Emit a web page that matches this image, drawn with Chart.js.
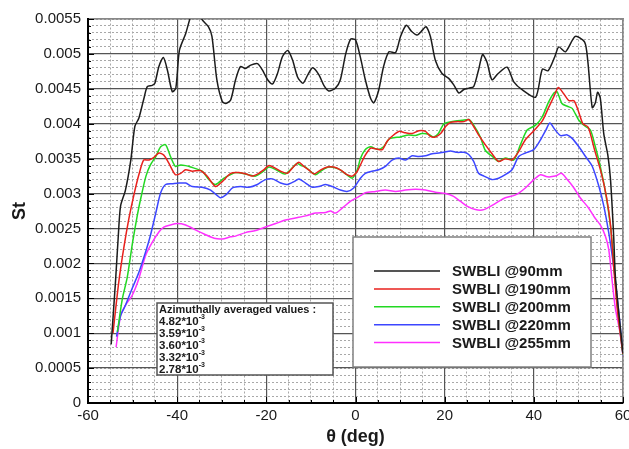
<!DOCTYPE html>
<html>
<head>
<meta charset="utf-8">
<title>SWBLI St vs theta</title>
<script src="https://cdn.jsdelivr.net/npm/chart.js@4.4.1/dist/chart.umd.min.js"></script>
<style>
  html, body { margin: 0; padding: 0; background: #fff; overflow: hidden; }
  #wrap { width: 640px; height: 449px; }
</style>
</head>
<body>
<div id="wrap"><canvas id="chart"></canvas></div>
<script>
// Stanton number values are stored in units of 1e-3
const ST_UNIT = 0.001;

const seriesNames = ['SWBLI @90mm', 'SWBLI @190mm', 'SWBLI @200mm', 'SWBLI @220mm', 'SWBLI @255mm'];
const seriesColors = ['#1c1c1c', '#e8201c', '#22d822', '#3c46ff', '#ff30ff'];
const averagedValues = ['4.82', '3.59', '3.60', '3.32', '2.78'];

const theta90 = [-54.8, -53.8, -53.2, -52.7, -51.6, -50.4, -49.5, -48.6, -47.5, -46.7, -45.6, -45.0, -44.1, -43.1, -42.2, -41.1, -40.3, -39.5, -38.1, -37.0, -35.8, -34.4, -33.0, -32.2, -31.1, -29.9, -29.1, -28.0, -26.9, -25.8, -24.7, -23.5, -22.0, -20.9, -19.7, -18.6, -17.5, -16.4, -15.2, -14.1, -13.0, -11.8, -10.7, -9.6, -8.2, -7.1, -6.0, -4.5, -3.4, -2.2, -1.1, 0.0, 1.1, 2.2, 3.4, 4.1, 5.2, 6.3, 7.5, 9.0, 10.1, 11.4, 12.6, 13.8, 15.0, 15.8, 16.8, 17.9, 19.4, 20.9, 22.1, 23.2, 24.3, 25.4, 26.5, 27.6, 28.5, 29.5, 30.6, 32.0, 34.0, 35.5, 37.5, 40.4, 41.9, 43.2, 44.7, 45.6, 47.1, 49.3, 51.4, 52.1, 53.1, 53.8, 54.3, 54.9, 55.7, 56.6, 57.2, 57.9, 58.3, 59.2, 60.0];
const st90 = [0.84, 1.77, 2.40, 2.82, 3.05, 3.48, 3.96, 4.08, 4.35, 4.53, 4.55, 4.58, 4.82, 4.95, 4.77, 4.46, 4.51, 5.05, 5.29, 5.53, 5.70, 5.49, 5.39, 5.25, 4.63, 4.32, 4.29, 4.34, 4.63, 4.82, 4.79, 4.84, 4.86, 4.77, 4.63, 4.57, 4.72, 4.96, 5.05, 4.91, 4.67, 4.58, 4.70, 4.80, 4.70, 4.55, 4.47, 4.51, 4.63, 5.00, 5.21, 5.20, 4.95, 4.63, 4.36, 4.30, 4.48, 4.82, 5.03, 5.02, 5.25, 5.41, 5.32, 5.27, 5.34, 5.39, 5.25, 4.91, 4.72, 4.65, 4.55, 4.44, 4.49, 4.51, 4.53, 4.77, 4.99, 4.88, 4.63, 4.72, 4.81, 4.60, 4.48, 4.38, 4.78, 4.76, 4.96, 5.10, 5.03, 5.25, 5.17, 4.90, 4.23, 4.30, 4.45, 4.37, 3.85, 3.55, 3.20, 2.40, 1.80, 1.20, 0.71];

const theta190 = [-54.4, -53.1, -52.0, -50.8, -49.6, -48.5, -47.5, -46.3, -45.2, -44.1, -43.0, -41.9, -40.4, -39.2, -38.1, -36.6, -34.8, -33.3, -31.4, -29.9, -28.0, -26.2, -24.5, -23.2, -21.7, -20.6, -19.4, -17.9, -16.8, -15.3, -13.8, -12.7, -11.6, -10.5, -9.3, -7.8, -6.3, -4.9, -3.4, -1.9, -0.7, 0.4, 1.1, 2.2, 3.4, 4.5, 6.0, 7.1, 8.2, 9.7, 11.2, 12.7, 14.2, 15.7, 16.8, 17.9, 19.1, 20.2, 21.3, 22.8, 24.3, 25.4, 26.5, 27.6, 29.1, 30.5, 32.1, 33.6, 35.1, 36.6, 38.1, 40.0, 41.9, 43.3, 44.5, 45.5, 46.7, 47.9, 49.0, 50.0, 51.0, 52.2, 53.6, 55.1, 56.3, 57.2, 57.9, 58.8, 60.0];
const st190 = [1.00, 1.73, 2.21, 2.65, 3.01, 3.29, 3.48, 3.48, 3.52, 3.58, 3.55, 3.44, 3.27, 3.29, 3.34, 3.32, 3.33, 3.25, 3.10, 3.17, 3.29, 3.30, 3.28, 3.25, 3.29, 3.34, 3.40, 3.36, 3.32, 3.29, 3.39, 3.45, 3.39, 3.34, 3.28, 3.34, 3.38, 3.38, 3.34, 3.27, 3.25, 3.32, 3.41, 3.55, 3.65, 3.64, 3.63, 3.75, 3.82, 3.89, 3.87, 3.86, 3.90, 3.89, 3.82, 3.81, 3.86, 3.96, 4.02, 4.03, 4.03, 4.06, 3.96, 3.84, 3.70, 3.58, 3.46, 3.50, 3.48, 3.60, 3.77, 3.90, 4.04, 4.23, 4.39, 4.52, 4.43, 4.33, 4.33, 4.18, 4.00, 3.95, 3.63, 3.30, 2.95, 2.55, 1.96, 1.30, 0.70];

const theta200 = [-53.4, -52.3, -51.2, -50.0, -48.9, -48.1, -47.0, -46.0, -44.8, -43.7, -42.6, -41.5, -40.4, -39.2, -38.1, -37.0, -34.4, -32.9, -31.4, -29.5, -28.0, -26.9, -24.0, -22.4, -20.6, -19.4, -17.5, -15.8, -13.1, -12.2, -11.2, -9.0, -7.6, -6.0, -3.7, -2.0, -0.7, 0.4, 1.1, 2.2, 3.4, 4.9, 6.3, 7.5, 8.6, 10.1, 11.9, 13.4, 14.9, 16.4, 17.5, 18.6, 19.8, 20.9, 22.4, 23.9, 25.4, 26.5, 28.0, 29.1, 30.7, 32.1, 33.6, 35.5, 37.0, 38.5, 40.4, 41.9, 43.3, 44.5, 45.2, 46.3, 47.5, 48.6, 50.1, 51.6, 52.7, 53.8, 54.9, 56.1, 57.2, 57.9, 58.8, 60.0];
const st200 = [1.02, 1.49, 1.80, 2.30, 2.70, 2.95, 3.25, 3.41, 3.53, 3.67, 3.70, 3.53, 3.39, 3.41, 3.40, 3.38, 3.32, 3.20, 3.13, 3.22, 3.27, 3.30, 3.27, 3.25, 3.32, 3.38, 3.33, 3.28, 3.43, 3.40, 3.38, 3.27, 3.33, 3.38, 3.35, 3.27, 3.22, 3.34, 3.50, 3.63, 3.67, 3.63, 3.67, 3.78, 3.80, 3.81, 3.84, 3.83, 3.86, 3.85, 3.81, 3.86, 4.00, 4.02, 4.04, 4.05, 4.06, 3.98, 3.81, 3.62, 3.53, 3.46, 3.51, 3.48, 3.70, 3.91, 3.98, 4.10, 4.31, 4.44, 4.46, 4.29, 4.25, 4.22, 4.05, 3.96, 3.91, 3.67, 3.39, 3.01, 2.53, 2.05, 1.35, 0.69];

const theta220 = [-53.6, -52.7, -51.6, -50.1, -48.6, -47.1, -46.0, -44.8, -43.7, -42.6, -41.1, -39.6, -38.1, -36.6, -34.4, -32.5, -30.3, -29.1, -27.6, -25.8, -23.9, -22.0, -20.2, -18.6, -16.8, -15.3, -13.8, -12.7, -11.2, -9.7, -8.2, -6.7, -5.2, -3.4, -1.9, -0.4, 1.1, 2.2, 3.7, 5.2, 6.7, 8.2, 9.7, 11.2, 12.7, 14.2, 15.7, 17.2, 18.7, 19.8, 21.3, 22.8, 24.3, 25.4, 26.5, 27.6, 28.8, 30.6, 32.1, 33.6, 35.1, 36.6, 38.1, 40.0, 41.5, 42.7, 43.6, 44.8, 46.0, 47.5, 48.6, 50.1, 51.6, 53.1, 54.6, 55.7, 56.8, 57.6, 58.3, 59.3, 60.0];
const st220 = [0.95, 1.25, 1.40, 1.64, 1.87, 2.16, 2.40, 2.72, 3.01, 3.13, 3.14, 3.15, 3.15, 3.10, 3.09, 3.05, 2.94, 2.98, 3.08, 3.10, 3.09, 3.13, 3.20, 3.21, 3.15, 3.13, 3.17, 3.21, 3.15, 3.09, 3.10, 3.13, 3.10, 3.05, 3.03, 3.08, 3.22, 3.29, 3.32, 3.34, 3.39, 3.48, 3.51, 3.48, 3.54, 3.53, 3.54, 3.57, 3.58, 3.59, 3.61, 3.59, 3.59, 3.56, 3.46, 3.29, 3.25, 3.20, 3.22, 3.27, 3.34, 3.53, 3.58, 3.63, 3.77, 3.91, 4.01, 3.91, 3.83, 3.84, 3.79, 3.67, 3.53, 3.39, 3.10, 2.82, 2.44, 2.10, 1.75, 1.15, 0.68];

const theta255 = [-53.7, -52.7, -51.6, -50.1, -48.6, -47.1, -45.6, -44.1, -43.0, -41.5, -40.0, -38.1, -35.9, -33.6, -31.7, -29.9, -28.0, -26.9, -24.7, -22.4, -20.2, -17.9, -15.7, -13.5, -11.2, -9.0, -6.7, -5.6, -4.5, -3.0, -1.1, 0.0, 1.1, 2.2, 4.5, 6.7, 9.0, 11.2, 13.5, 15.7, 17.9, 20.2, 22.0, 23.5, 25.0, 26.9, 28.8, 31.4, 33.6, 35.9, 38.1, 40.0, 41.5, 43.0, 44.8, 46.2, 47.5, 49.0, 50.4, 52.2, 53.6, 54.9, 56.0, 56.8, 57.6, 58.3, 59.3, 60.0];
const st255 = [0.80, 1.25, 1.40, 1.54, 1.78, 2.11, 2.30, 2.45, 2.52, 2.55, 2.57, 2.55, 2.48, 2.41, 2.36, 2.35, 2.38, 2.39, 2.44, 2.47, 2.52, 2.57, 2.62, 2.65, 2.68, 2.72, 2.73, 2.75, 2.72, 2.79, 2.89, 2.93, 2.97, 3.01, 3.03, 3.05, 3.03, 3.05, 3.06, 3.05, 3.02, 3.00, 2.96, 2.89, 2.82, 2.77, 2.77, 2.86, 2.94, 2.98, 3.08, 3.20, 3.27, 3.24, 3.25, 3.29, 3.20, 3.08, 2.94, 2.80, 2.66, 2.55, 2.40, 2.20, 1.73, 1.35, 1.02, 0.68];

const thetaSets = [theta90, theta190, theta200, theta220, theta255];
const stSets = [st90, st190, st200, st220, st255];

const FONT = '"Liberation Sans", Arial, Helvetica, sans-serif';

function toPoints(thetas, values) {
  return thetas.map((t, i) => ({ x: t, y: values[i] * ST_UNIT }));
}

// Legend box and averaged-values box drawn inside the plot area
const overlayPlugin = {
  id: 'overlay',
  afterDatasetsDraw(chart) {
    const ctx = chart.ctx;
    const xs = chart.scales.x;
    const ys = chart.scales.y;

    // inward tick marks along the bottom and left axes
    ctx.save();
    ctx.strokeStyle = '#000';
    ctx.lineWidth = 1;
    chart.scales.xMinor.ticks.forEach(t => {
      const px = Math.round(xs.getPixelForValue(t.value)) + 0.5;
      const len = Math.abs(t.value % 20) < 1e-9 ? 6 : 3;
      ctx.beginPath();
      ctx.moveTo(px, ys.bottom);
      ctx.lineTo(px, ys.bottom - len);
      ctx.stroke();
    });
    chart.scales.yMinor.ticks.forEach(t => {
      const py = Math.round(ys.getPixelForValue(t.value)) + 0.5;
      const k = Math.round(t.value / 0.0001);
      const len = k % 5 === 0 ? 6 : 3;
      ctx.beginPath();
      ctx.moveTo(xs.left, py);
      ctx.lineTo(xs.left + len, py);
      ctx.stroke();
    });
    ctx.restore();
  },
  afterDraw(chart) {
    const ctx = chart.ctx;
    ctx.save();

    // legend
    ctx.fillStyle = '#fff';
    ctx.fillRect(353, 237, 238, 130);
    ctx.strokeStyle = '#808080';
    ctx.lineWidth = 1.5;
    ctx.strokeRect(353, 237, 238, 130);
    ctx.font = 'bold 15px ' + FONT;
    ctx.textBaseline = 'middle';
    ctx.textAlign = 'left';
    chart.data.datasets.forEach((ds, i) => {
      const y = 271 + i * 17.9;
      ctx.strokeStyle = ds.borderColor;
      ctx.lineWidth = 1.5;
      ctx.beginPath();
      ctx.moveTo(374, y);
      ctx.lineTo(440, y);
      ctx.stroke();
      ctx.fillStyle = '#1a1a1a';
      ctx.fillText(ds.label, 452, y + 1);
    });

    // azimuthally averaged values
    ctx.fillStyle = '#fff';
    ctx.fillRect(157, 303, 176, 72);
    ctx.strokeStyle = '#555';
    ctx.lineWidth = 1.5;
    ctx.strokeRect(157, 303, 176, 72);
    ctx.fillStyle = '#1a1a1a';
    ctx.font = 'bold 11px ' + FONT;
    ctx.fillText('Azimuthally averaged values :', 159, 310);
    averagedValues.forEach((v, i) => {
      const y = 322 + i * 11.9;
      ctx.font = 'bold 11.5px ' + FONT;
      const base = v + '*10';
      ctx.fillText(base, 159, y);
      const w = ctx.measureText(base).width;
      ctx.font = 'bold 7px ' + FONT;
      ctx.fillText('-3', 159 + w, y - 5);
    });

    ctx.restore();
  }
};

const datasets = seriesNames.map((name, i) => ({
  label: name,
  data: toPoints(thetaSets[i], stSets[i]),
  borderColor: seriesColors[i],
  backgroundColor: seriesColors[i],
  borderWidth: 1.5,
  pointRadius: 0,
  tension: 0.25,
  xAxisID: 'x',
  yAxisID: 'y'
}));

new Chart(document.getElementById('chart'), {
  type: 'line',
  data: { datasets },
  plugins: [overlayPlugin],
  options: {
    responsive: true,
    maintainAspectRatio: false,
    animation: false,
    events: [],
    layout: { padding: { top: 19, right: 17, left: 0, bottom: 0 } },
    plugins: {
      legend: { display: false },
      tooltip: { enabled: false }
    },
    scales: {
      xMinor: {
        type: 'linear',
        position: 'top',
        min: -60,
        max: 60,
        ticks: { stepSize: 5, display: false },
        grid: { color: '#a8a8a8', lineWidth: 1, drawTicks: false },
        border: { display: true, color: '#888', width: 1.5, dash: [2, 2] },
        afterFit: s => { s.height = 0; }
      },
      yMinor: {
        type: 'linear',
        position: 'right',
        min: 0,
        max: 0.0055,
        ticks: { stepSize: 0.0001, display: false },
        grid: { color: '#a8a8a8', lineWidth: 1, drawTicks: false },
        border: { display: true, color: '#888', width: 1.5, dash: [2, 2] },
        afterFit: s => { s.width = 0; }
      },
      x: {
        type: 'linear',
        position: 'bottom',
        min: -60,
        max: 60,
        ticks: {
          stepSize: 20,
          padding: 4,
          color: '#1a1a1a',
          font: { family: FONT, size: 15 }
        },
        grid: { color: '#555', lineWidth: 1.2, drawTicks: false },
        border: { display: true, color: '#000', width: 2 },
        title: {
          display: true,
          text: 'θ (deg)',
          color: '#1a1a1a',
          font: { family: FONT, size: 18, weight: 'bold' },
          padding: { top: 0, bottom: 1 }
        },
        afterFit: s => { s.height = 46; }
      },
      y: {
        type: 'linear',
        position: 'left',
        min: 0,
        max: 0.0055,
        ticks: {
          stepSize: 0.0005,
          padding: 7,
          color: '#1a1a1a',
          font: { family: FONT, size: 15 },
          callback: v => String(parseFloat(v.toFixed(4)))
        },
        grid: { color: '#555', lineWidth: 1.2, drawTicks: false },
        border: { display: true, color: '#000', width: 2 },
        title: {
          display: true,
          text: 'St',
          color: '#1a1a1a',
          font: { family: FONT, size: 18, weight: 'bold' },
          padding: { top: 9, bottom: 0 }
        },
        afterFit: s => { s.width = 88; }
      }
    }
  }
});
</script>
</body>
</html>
